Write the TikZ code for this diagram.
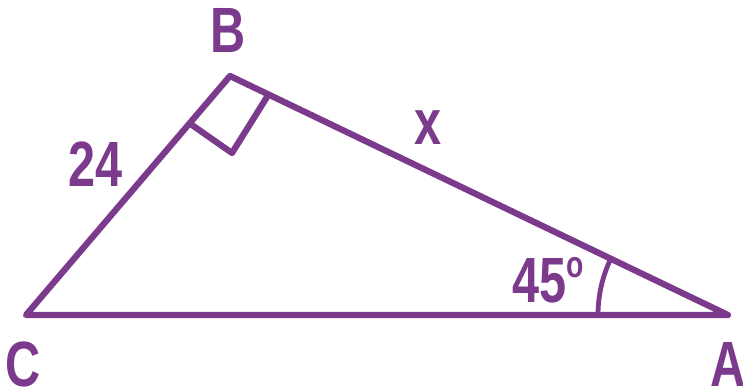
\documentclass[tikz,border=0pt]{standalone}
\usepackage{fontspec}
\setmainfont[FakeStretch=0.76]{Liberation Sans}
\definecolor{tripurple}{RGB}{124,58,141}
\tikzset{
  side/.style={draw=tripurple,line width=4.7pt,line join=round,line cap=round},
  anglearc/.style={draw=tripurple,line width=3.6pt},
  lbl/.style={text=tripurple,inner sep=0pt,font=\fontsize{48}{48}\selectfont\bfseries}
}
\begin{document}
\begin{tikzpicture}[x=0.75pt,y=-0.75pt]
\useasboundingbox (0,0) rectangle (743,389);
\coordinate (C) at (26,315); \coordinate (B) at (230,76); \coordinate (A) at (728,315);
\coordinate (rBC) at (192,125); \coordinate (rM) at (232,153); \coordinate (rBA) at (267,97);
\draw[side] (C) -- (B) -- (A) -- cycle;
\draw[side] (rBC) -- (rM) -- (rBA);
\draw[anglearc] (A) ++(180:97.5pt) arc[start angle=180,end angle=154.5,radius=97.5pt];
\node[lbl] (lblB) at (228,30) {B};
\node[lbl] (lblC) at (23,364) {C};
\node[lbl] (lblA) at (728,364) {A};
\node[lbl] (lblCB) at (96,164) {24};
\node[lbl] (lblBA) at (428,128) {x};
\node[lbl] (lblAng) at (548,280) {45\raisebox{19pt}{\fontsize{28}{28}\selectfont o}};
\end{tikzpicture}
\end{document}
